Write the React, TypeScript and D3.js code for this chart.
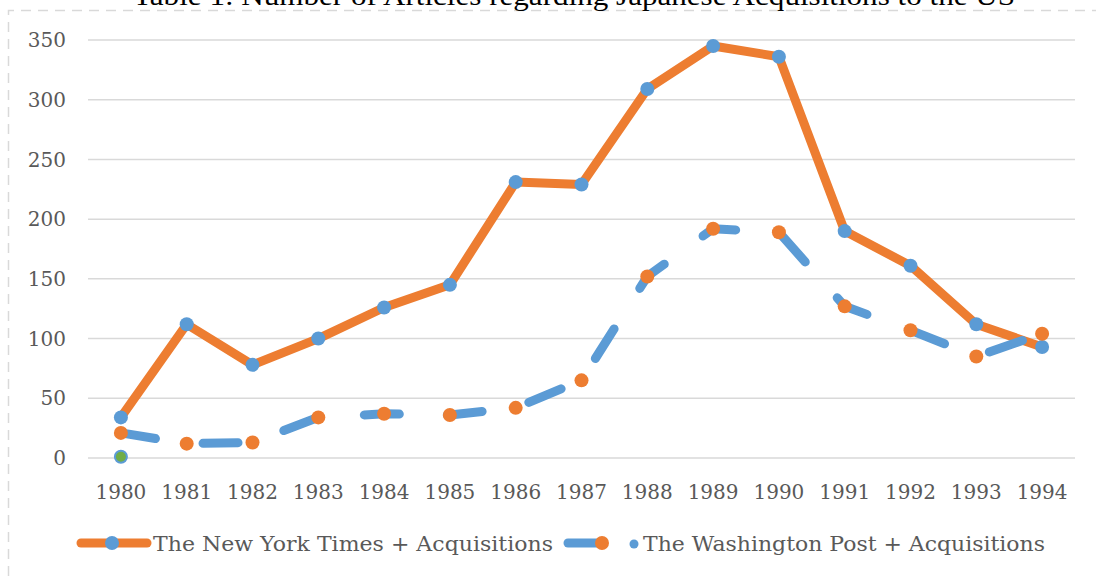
import * as d3 from 'd3';

const years = ['1980', '1981', '1982', '1983', '1984', '1985', '1986', '1987', '1988', '1989', '1990', '1991', '1992', '1993', '1994'];
const nytValues = [34, 112, 78, 100, 126, 145, 231, 229, 309, 345, 336, 190, 161, 112, 93];
const wapoValues = [21, 12, 13, 34, 37, 36, 42, 65, 152, 192, 189, 127, 107, 85, 104];
const extraValues = [1];
const yTicks = [0, 50, 100, 150, 200, 250, 300, 350];

const ORANGE = '#ed7d31';
const BLUE = '#5b9bd5';
const GREEN = '#70ad47';
const GRID = '#d9d9d9';
const TEXT = '#595959';
const FONT = '"DejaVu Serif", serif';

export default function App() {
  const width = 1096;
  const height = 576;

  const x = d3.scaleBand<string>().domain(years).range([88, 1075]);
  const y = d3.scaleLinear().domain([0, 350]).range([458, 40]);
  const cx = (yr: string) => (x(yr) ?? 0) + x.bandwidth() / 2;

  const line = d3.line<number>()
    .x((_, i) => cx(years[i]))
    .y(d => y(d));

  return (
    <div style={{ position: 'fixed', left: 0, top: 0 }}>
      <svg width={width} height={height} style={{ display: 'block', background: '#fff' }}>
        {/* dashed frame */}
        <path d={`M 8.5 ${height} L 8.5 10.5 L ${width} 10.5`} fill="none" stroke={GRID} strokeWidth={1.5} strokeDasharray="10 7" />

        <text x={574} y={5} textAnchor="middle" fontFamily='"Liberation Serif", serif' fontSize={28} fill="#000"
          textLength={882} lengthAdjust="spacingAndGlyphs">
          Table 1: Number of Articles regarding Japanese Acquisitions to the US
        </text>

        {/* grid + y labels */}
        {yTicks.map(t => (
          <g key={t}>
            <line x1={88} x2={1075} y1={y(t)} y2={y(t)} stroke={GRID} strokeWidth={1.5} />
            <text x={66} y={y(t)} dy="0.36em" textAnchor="end" fontFamily={FONT} fontSize={20} fill={TEXT}>{t}</text>
          </g>
        ))}

        {/* x labels */}
        {years.map(yr => (
          <text key={yr} x={cx(yr)} y={499} textAnchor="middle" fontFamily={FONT} fontSize={20} fill={TEXT}>{yr}</text>
        ))}

        {/* NYT */}
        <path d={line(nytValues) ?? ''} fill="none" stroke={ORANGE} strokeWidth={9} strokeLinejoin="round" />

        {/* WaPo */}
        <path d={line(wapoValues) ?? ''} fill="none" stroke={BLUE} strokeWidth={9} strokeLinecap="round"
          strokeLinejoin="round" strokeDasharray="35 48" />

        {nytValues.map((v, i) => (
          <circle key={'n' + i} cx={cx(years[i])} cy={y(v)} r={7} fill={BLUE} />
        ))}
        {wapoValues.map((v, i) => (
          <circle key={'w' + i} cx={cx(years[i])} cy={y(v)} r={7} fill={ORANGE} />
        ))}
        {extraValues.map((v, i) => (
          <circle key={'e' + i} cx={cx(years[i])} cy={y(v)} r={6} fill={GREEN} stroke={BLUE} strokeWidth={2} />
        ))}

        {/* legend */}
        <line x1={81} x2={147} y1={543} y2={543} stroke={ORANGE} strokeWidth={9} strokeLinecap="round" />
        <circle cx={112} cy={543} r={7} fill={BLUE} />
        <text x={153} y={551} fontFamily={FONT} fontSize={20} fill={TEXT} textLength={400} lengthAdjust="spacingAndGlyphs">
          The New York Times + Acquisitions
        </text>

        <line x1={568} x2={600} y1={543} y2={543} stroke={BLUE} strokeWidth={9} strokeLinecap="round" />
        <circle cx={602} cy={543} r={7} fill={ORANGE} />

        <circle cx={634} cy={544} r={4.5} fill={BLUE} />
        <text x={643} y={551} fontFamily={FONT} fontSize={20} fill={TEXT} textLength={402} lengthAdjust="spacingAndGlyphs">
          The Washington Post + Acquisitions
        </text>
      </svg>
    </div>
  );
}
